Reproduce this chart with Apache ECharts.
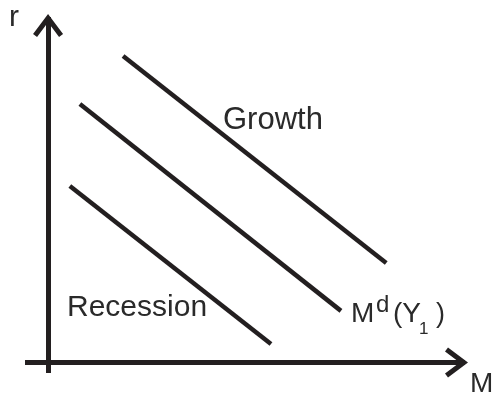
<!DOCTYPE html>
<html>
<head>
<meta charset="utf-8">
<script src="https://cdn.jsdelivr.net/npm/echarts@6/dist/echarts.min.js"></script>
<style>
  html, body { margin: 0; padding: 0; background: #fff; }
  #chart { width: 497px; height: 396px; }
</style>
</head>
<body>
<div id="chart"></div>
<script>
// money demand curves, in (M, r) units
const growthLine = [[1.79, 8.78], [8.07, 2.85]];
const baseLine = [[0.76, 7.41], [6.99, 1.48]];
const recessionLine = [[0.52, 5.06], [5.32, 0.53]];

const axisNames = { x: "M", y: "r" };
const curveNames = ["Growth", "Md(Y1)", "Recession"];

const ink = "#231f20";
const textInk = "#2a2a2a";
const font = "Liberation Sans, Arial, sans-serif";

// open chevron arrow head, tip at top
const arrowPath = "path://M15,0 L30,20 L26,23 L15,8.3 L4,23 L0,20 Z";

const chart = echarts.init(document.getElementById("chart"), null, { renderer: "canvas" });

const axisCommon = {
  type: "value",
  splitLine: { show: false },
  axisTick: { show: false },
  axisLabel: { show: false },
  axisLine: {
    show: true,
    onZero: true,
    symbol: ["none", arrowPath],
    symbolSize: [30, 23],
    symbolOffset: [0, -8.5],
    lineStyle: { color: ink, width: 5, cap: "butt" },
  },
};

function curve(name, data) {
  return {
    name: name,
    type: "line",
    data: data,
    symbol: "none",
    silent: true,
    lineStyle: { color: ink, width: 4.5, cap: "butt" },
  };
}

function txt(text, x, y, size) {
  return {
    type: "text",
    x: x,
    y: y,
    silent: true,
    style: {
      text: text,
      font: size + "px " + font,
      fill: textInk,
      textAlign: "left",
      textVerticalAlign: "middle",
    },
  };
}

const option = {
  animation: false,
  backgroundColor: "#fff",
  grid: { left: 25, right: 32, top: 17, bottom: 23, outerBoundsMode: "none" },
  xAxis: Object.assign({}, axisCommon, { min: -0.55, max: 9.95 }),
  yAxis: Object.assign({}, axisCommon, { min: -0.3, max: 9.9 }),
  series: [
    curve(curveNames[0], growthLine),
    curve(curveNames[1], baseLine),
    curve(curveNames[2], recessionLine),
  ],
  graphic: [
    txt(axisNames.y, 9, 17.7, 30),
    txt(axisNames.x, 470, 384, 28),
    txt("Growth", 223, 120.5, 31),
    txt("Recession", 67, 307.7, 30),
    // M^d(Y_1)
    txt("M", 351, 314.3, 28),
    txt("d", 376, 305.6, 24),
    txt("(Y", 393, 314.3, 28),
    txt("1", 419, 329.7, 17),
    txt(")", 436, 314.3, 27),
  ],
};

chart.setOption(option);
</script>
</body>
</html>
